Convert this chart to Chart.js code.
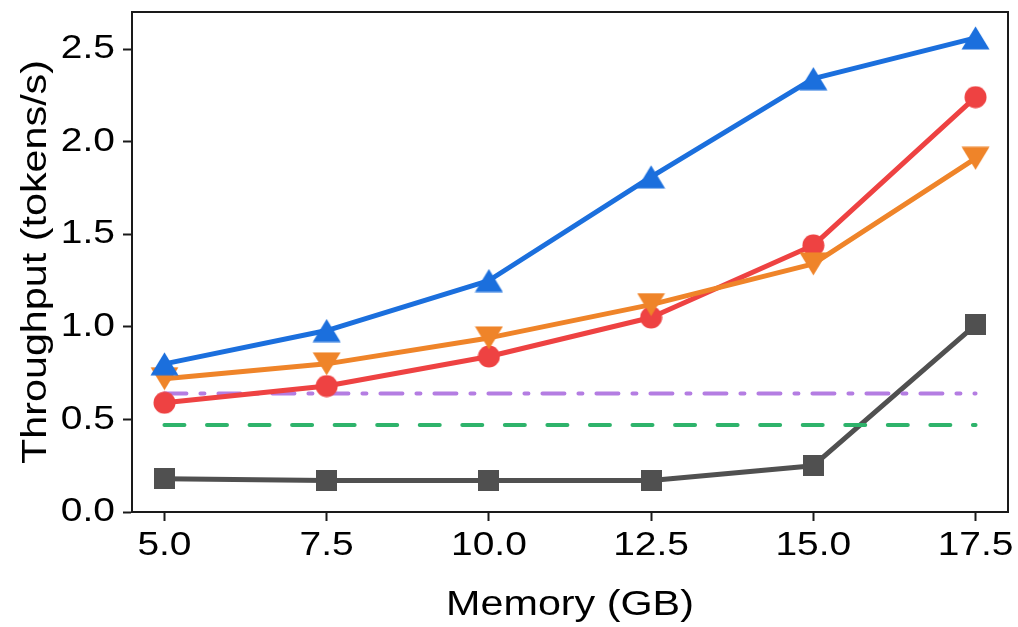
<!DOCTYPE html>
<html>
<head>
<meta charset="utf-8">
<script src="https://cdn.jsdelivr.net/npm/chart.js@4.4.1/dist/chart.umd.min.js"></script>
<style>
  html, body { margin: 0; padding: 0; background: #ffffff; }
  #wrap { width: 1018px; height: 627px; }
</style>
</head>
<body>
<div id="wrap"><canvas id="chart" width="1018" height="627"></canvas></div>
<script>
// Memory budget (GB) on the x axis
const memoryGB = [5.0, 7.5, 10.0, 12.5, 15.0, 17.5];

// Throughput (tokens/s) per method
const blueSeries   = [0.80, 0.98, 1.25, 1.81, 2.34, 2.56];
const orangeSeries = [0.72, 0.80, 0.94, 1.12, 1.34, 1.91];
const redSeries    = [0.59, 0.68, 0.84, 1.05, 1.44, 2.24];
const graySeries   = [0.18, 0.17, 0.17, 0.17, 0.25, 1.01];

// Constant reference levels
const purpleLevel = 0.64;
const greenLevel  = 0.47;

// Axis ticks
const xTicks = [5.0, 7.5, 10.0, 12.5, 15.0, 17.5];
const yTicks = [0.0, 0.5, 1.0, 1.5, 2.0, 2.5];

const COLORS = {
  blue: '#1b6fdd',
  orange: '#ef8429',
  red: '#ee4242',
  gray: '#505050',
  purple: '#b47de2',
  green: '#2eb36b'
};

// Plot box in canvas pixels
const PLOT = { left: 132, right: 1008, top: 12, bottom: 512 };

// Marker sprites, centred on their bounding box
function sprite(w, h, draw) {
  const c = document.createElement('canvas');
  c.width = w; c.height = h;
  const g = c.getContext('2d');
  draw(g, w, h);
  return c;
}
const triUp = sprite(29, 24, (g, w, h) => {
  g.fillStyle = COLORS.blue;
  g.beginPath(); g.moveTo(w / 2, 0.5); g.lineTo(w - 0.5, h - 0.5); g.lineTo(0.5, h - 0.5); g.closePath(); g.fill();
});
const triDown = sprite(29, 24, (g, w, h) => {
  g.fillStyle = COLORS.orange;
  g.beginPath(); g.moveTo(0.5, 0.5); g.lineTo(w - 0.5, 0.5); g.lineTo(w / 2, h - 0.5); g.closePath(); g.fill();
});
const dot = sprite(23, 23, (g, w, h) => {
  g.fillStyle = COLORS.red;
  g.beginPath(); g.arc(w / 2, h / 2, 11, 0, Math.PI * 2); g.fill();
});
const square = sprite(21, 21, (g, w, h) => {
  g.fillStyle = COLORS.gray;
  g.fillRect(0, 0, w, h);
});

const pts = ys => memoryGB.map((x, i) => ({ x, y: ys[i] }));
const level = v => [{ x: memoryGB[0], y: v }, { x: memoryGB[memoryGB.length - 1], y: v }];

const FONT = '"Liberation Sans", Arial, sans-serif';
const TEXT_STRETCH = 1.18;

// Pin the plot box after layout, widen text, and draw the frame
const framePlugin = {
  id: 'frame',
  afterLayout(chart) {
    const a = chart.chartArea;
    a.left = PLOT.left; a.right = PLOT.right; a.top = PLOT.top; a.bottom = PLOT.bottom;
    a.width = a.right - a.left; a.height = a.bottom - a.top;
    const x = chart.scales.x, y = chart.scales.y;
    x.left = PLOT.left; x.right = PLOT.right; x.width = PLOT.right - PLOT.left;
    x.top = PLOT.bottom; x.bottom = chart.height;
    y.top = PLOT.top; y.bottom = PLOT.bottom; y.height = PLOT.bottom - PLOT.top;
    y.left = 0; y.right = PLOT.left;
    x.configure(); y.configure();
  },
  beforeDraw(chart) {
    const ctx = chart.ctx;
    if (!ctx.__stretched) {
      const nativeFill = ctx.fillText;
      ctx.fillText = function (text, px, py, maxWidth) {
        this.save();
        this.translate(px, py);
        this.scale(TEXT_STRETCH, 1);
        nativeFill.call(this, text, 0, 0);
        this.restore();
      };
      ctx.__stretched = true;
    }
  },
  beforeDatasetsDraw(chart) {
    const { ctx, chartArea: a } = chart;
    ctx.save();
    ctx.strokeStyle = '#1a1a1a';
    ctx.lineWidth = 2;
    ctx.strokeRect(a.left, a.top, a.right - a.left, a.bottom - a.top);
    ctx.restore();
  }
};

const LINE_W = 5;

new Chart(document.getElementById('chart'), {
  type: 'line',
  data: {
    datasets: [
      { data: pts(blueSeries), borderColor: COLORS.blue, borderWidth: LINE_W, pointStyle: triUp, pointRadius: 12 },
      { data: pts(orangeSeries), borderColor: COLORS.orange, borderWidth: LINE_W, pointStyle: triDown, pointRadius: 12 },
      { data: pts(redSeries), borderColor: COLORS.red, borderWidth: LINE_W, pointStyle: dot, pointRadius: 11 },
      { data: level(purpleLevel), borderColor: COLORS.purple, borderWidth: 4, pointRadius: 0,
        borderDash: [22, 14, 4, 14], borderCapStyle: 'round' },
      { data: level(greenLevel), borderColor: COLORS.green, borderWidth: 4, pointRadius: 0,
        borderDash: [20, 22.55], borderCapStyle: 'round' },
      { data: pts(graySeries), borderColor: COLORS.gray, borderWidth: LINE_W, pointStyle: square, pointRadius: 10 }
    ]
  },
  options: {
    responsive: false,
    animation: false,
    devicePixelRatio: 1,
    layout: { padding: { left: 0, right: 10, top: 12, bottom: 0 } },
    plugins: { legend: { display: false }, tooltip: { enabled: false } },
    elements: { line: { tension: 0, borderJoinStyle: 'round' } },
    scales: {
      x: {
        type: 'linear',
        min: 4.5, max: 18,
        afterFit(scale) { scale.height = 115; scale.paddingLeft = 0; scale.paddingRight = 0; },
        afterBuildTicks(scale) { scale.ticks = xTicks.map(v => ({ value: v })); },
        ticks: {
          color: '#000',
          font: { family: FONT, size: 33 },
          padding: 5,
          maxRotation: 0,
          autoSkip: false,
          callback: v => Number(v).toFixed(1)
        },
        grid: { display: true, drawOnChartArea: false, drawTicks: true, tickLength: 9, tickColor: '#1a1a1a', tickWidth: 2 },
        border: { display: true, color: '#1a1a1a', width: 2 },
        title: { display: true, text: 'Memory (GB)', color: '#000',
                 font: { family: FONT, size: 35, lineHeight: 1 }, padding: { top: 0, bottom: 4 } }
      },
      y: {
        type: 'linear',
        min: 0, max: 2.7,
        afterFit(scale) { scale.width = 132; scale.paddingTop = 0; scale.paddingBottom = 0; },
        afterBuildTicks(scale) { scale.ticks = yTicks.map(v => ({ value: v })); },
        ticks: {
          color: '#000',
          font: { family: FONT, size: 33 },
          padding: 8,
          autoSkip: false,
          callback: v => Number(v).toFixed(1)
        },
        grid: { display: true, drawOnChartArea: false, drawTicks: true, tickLength: 9, tickColor: '#1a1a1a', tickWidth: 2 },
        border: { display: true, color: '#1a1a1a', width: 2 },
        title: { display: true, text: 'Throughput (tokens/s)', color: '#000',
                 font: { family: FONT, size: 35, lineHeight: 1 }, padding: { top: 19, bottom: 0 } }
      }
    }
  },
  plugins: [framePlugin]
});
</script>
</body>
</html>
